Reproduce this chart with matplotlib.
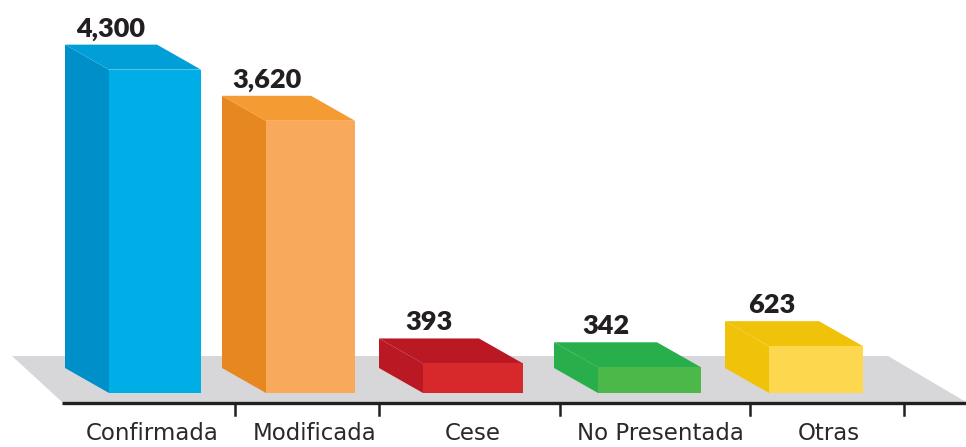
import matplotlib
matplotlib.use("Agg")
import matplotlib.pyplot as plt
from matplotlib.patches import Polygon

# data
categories = ["Confirmada", "Modificada", "Cese", "No Presentada", "Otras"]
values = [4300, 3620, 393, 342, 623]
value_labels = ["4,300", "3,620", "393", "342", "623"]

# colours: front, side, top
front_cols = ["#00AEE7", "#F9A95B", "#D7282B", "#4BB849", "#FDD84F"]
side_cols = ["#0090C9", "#E6881F", "#BA1822", "#28AE4A", "#F0C30A"]
top_cols = ["#009FD8", "#F59B34", "#BA1822", "#28AE4A", "#F0C30A"]

# layout (pixels)
W, H = 966, 447
front_left = [109, 266, 423, 598, 769]
front_width = [92, 89, 100, 103, 94]
label_x = [152, 315, 473, 660, 829]
tick_x = [235, 379, 560, 750, 904]
base_px = 393          # pixel row of value 0
k = 0.0752             # pixels per unit
dx, dy_px = -44, 25    # depth offset of the 3d bars


def py(p):
    # pixel row -> value units
    return (base_px - p) / k


dy = dy_px / k

fig = plt.figure(figsize=(W / 100, H / 100), dpi=100)
ax = fig.add_axes([0, 0, 1, 1])
ax.set_xlim(0, W)
ax.set_ylim(py(H), py(0))
ax.axis("off")

# grey floor
floor = Polygon([(12, py(356)), (888, py(356)), (966, py(402)), (62, py(402))],
                closed=True, facecolor="#D7D7D9", edgecolor="none", zorder=1)
ax.add_patch(floor)

# bars
for i, v in enumerate(values):
    x0 = front_left[i]
    x1 = x0 + front_width[i]
    y0, y1 = 0, v
    side = Polygon([(x0, y0), (x0, y1), (x0 + dx, y1 + dy), (x0 + dx, y0 + dy)],
                   closed=True, facecolor=side_cols[i], edgecolor="none", zorder=3)
    top = Polygon([(x0, y1), (x1, y1), (x1 + dx, y1 + dy), (x0 + dx, y1 + dy)],
                  closed=True, facecolor=top_cols[i], edgecolor="none", zorder=3)
    ax.add_patch(side)
    ax.add_patch(top)
    ax.bar(x0, v, width=front_width[i], align="edge", bottom=0,
           color=front_cols[i], zorder=4)
    ax.text((x0 + x1) / 2 + dx, v + dy + 4 / k, value_labels[i],
            ha="center", va="bottom", fontsize=19.5, fontweight="heavy",
            family="Lato", color="#231F20", zorder=5)

# axis line and ticks
ax.plot([62, 966], [py(403), py(403)], color="#231F20", lw=2.4,
        solid_capstyle="butt", zorder=2)
for t in tick_x:
    ax.plot([t, t], [py(403), py(415)], color="#231F20", lw=1.8, zorder=2)

for i, c in enumerate(categories):
    ax.text(label_x[i], py(433), c, ha="center", va="center", fontsize=16.5,
            family="DejaVu Sans", color="#2B2829")

plt.savefig("out.png", dpi=100)
